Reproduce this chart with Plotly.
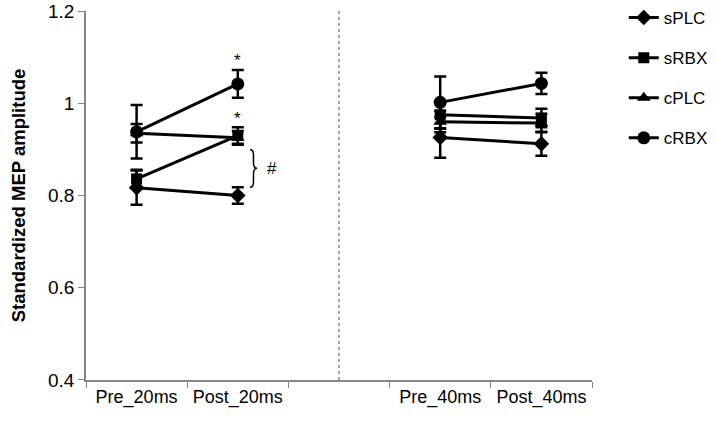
import plotly.graph_objects as go

categories = ["Pre_20ms", "Post_20ms", " ", "Pre_40ms", "Post_40ms"]
y_ticks = [0.4, 0.6, 0.8, 1.0, 1.2]
y_tick_labels = ["0.4", "0.6", "0.8", "1", "1.2"]

sPLC = [0.817, 0.800, None, 0.926, 0.912]
sPLC_err = [0.037, 0.018, None, 0.044, 0.026]
sRBX = [0.836, 0.930, None, 0.975, 0.968]
sRBX_err = [0.020, 0.018, None, 0.030, 0.020]
cPLC = [0.935, 0.925, None, 0.960, 0.957]
cPLC_err = [0.020, 0.015, None, 0.023, 0.020]
cRBX = [0.938, 1.042, None, 1.002, 1.043]
cRBX_err = [0.058, 0.030, None, 0.056, 0.023]

series = [
    ("sPLC", sPLC, sPLC_err, "diamond", 12),
    ("sRBX", sRBX, sRBX_err, "square", 11),
    ("cPLC", cPLC, cPLC_err, "triangle-up", 12),
    ("cRBX", cRBX, cRBX_err, "circle", 13),
]

FONT = "Liberation Sans, Arial, sans-serif"
AXIS_COLOR = "#868686"

fig = go.Figure()
for name, vals, errs, sym, size in series:
    fig.add_trace(go.Scatter(
        x=categories, y=vals, name=name, legendgroup=name,
        mode="lines+markers",
        line=dict(color="black", width=3),
        marker=dict(symbol=sym, size=size, color="black"),
        error_y=dict(type="data", array=errs, visible=True,
                     color="black", thickness=2.5, width=6),
        connectgaps=False,
    ))

# significance marks
fig.add_annotation(x="Post_20ms", y=cRBX[1] + cRBX_err[1], text="*",
                   showarrow=False, yanchor="bottom", yshift=-2,
                   font=dict(family=FONT, size=17, color="black"))
fig.add_annotation(x="Post_20ms", y=sRBX[1] + sRBX_err[1], text="*",
                   showarrow=False, yanchor="bottom", yshift=-3,
                   font=dict(family=FONT, size=17, color="black"))

# brace between sRBX and sPLC at Post_20ms
ytop = sRBX[1] - sRBX_err[1] - 0.012
ybot = sPLC[1] + sPLC_err[1]
ymid = (ytop + ybot) / 2
x0, x1, x2 = 1.12, 1.155, 1.19
d = 0.012
path = (f"M {x0},{ytop} Q {x1},{ytop} {x1},{ytop - d} "
        f"L {x1},{ymid + d} Q {x1},{ymid} {x2},{ymid} "
        f"Q {x1},{ymid} {x1},{ymid - d} "
        f"L {x1},{ybot + d} Q {x1},{ybot} {x0},{ybot}")
fig.add_shape(type="path", path=path, xref="x", yref="y",
              line=dict(color="black", width=1.5))
fig.add_annotation(x=1.34, y=ymid, xref="x", yref="y", text="#",
                   showarrow=False,
                   font=dict(family=FONT, size=17, color="black"))

# dotted separator
fig.add_shape(type="line", xref="x", yref="y", x0=2, x1=2, y0=0.4, y1=1.2,
              line=dict(color="#444444", width=1, dash="dot"))

fig.update_layout(
    width=717, height=428,
    margin=dict(l=86, r=125, t=11, b=48),
    plot_bgcolor="white", paper_bgcolor="white",
    font=dict(family=FONT, size=18, color="black"),
    showlegend=True,
    legend=dict(xref="container", yref="container", x=0.870, y=1.0,
                xanchor="left", yanchor="top",
                font=dict(family=FONT, size=17, color="black"),
                tracegroupgap=15, traceorder="grouped",
                bgcolor="rgba(0,0,0,0)"),
    xaxis=dict(type="category", categoryorder="array", categoryarray=categories,
               range=[-0.5, 4.5], showline=True, linecolor=AXIS_COLOR, linewidth=1.5,
               ticks="outside", tickson="boundaries", ticklen=6, tickcolor=AXIS_COLOR,
               showgrid=False, zeroline=False, tickangle=0, automargin=False,
               tickfont=dict(family=FONT, size=18, color="black")),
    yaxis=dict(range=[0.3999, 1.2001], tickmode="array", tickvals=y_ticks,
               ticktext=y_tick_labels, showline=True, automargin=False,
               ticklabeloverflow="allow",
               linecolor=AXIS_COLOR, linewidth=1.5, ticks="outside", ticklen=6,
               tickcolor=AXIS_COLOR, showgrid=False, zeroline=False,
               tickfont=dict(family=FONT, size=19, color="black"),
               title=dict(text="<b>Standardized MEP amplitude</b>", standoff=18,
                          font=dict(family=FONT, size=18.5, color="black"))),
)

fig.write_html("out.html", config={"displayModeBar": False},
               post_script="document.body.style.margin='0';")
